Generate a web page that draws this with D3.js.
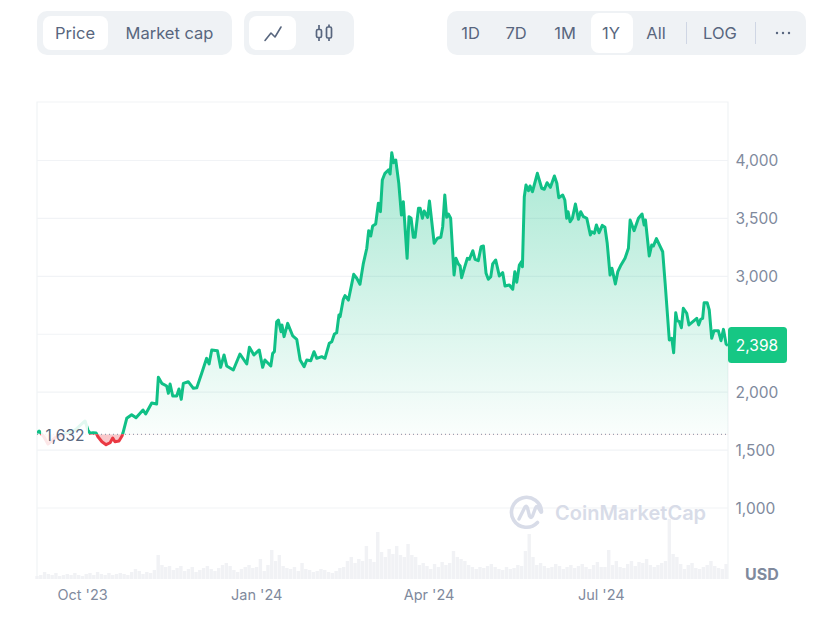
<!DOCTYPE html>
<html>
<head>
<meta charset="utf-8">
<script src="https://cdn.jsdelivr.net/npm/d3@7"></script>
<style>
html,body{margin:0;padding:0;background:#fff;}
svg{display:block;font-family:Inter,"Noto Sans",sans-serif;}
</style>
</head>
<body>
<svg id="c" width="825" height="627"></svg>
<script>
// Days since the start of the 1Y window
const priceDays = [0,1.1,3.7,5.8,9.5,14.8,20.1,25.4,26.9,28,29.6,31.2,32.2,34.3,36.5,38.6,40,41.2,43.3,44.9,45.4,47.4,50,52.3,56,57.4,60.6,63.2,64.1,65.9,68.5,69.4,70.3,71.7,73.8,75,76.2,77.3,79.9,82.6,84.4,87,89.6,90.9,92.3,95.3,97,98.8,100.2,103.7,107.2,110.8,112.2,114.6,117.4,119.2,120.4,123.5,124.5,125.4,126.6,127.5,128.9,129.4,130.5,132.4,135.1,137.2,139,141.1,142.5,144.6,146.3,147.8,150.4,152.1,154.4,155.7,157.1,158.3,159.5,160.1,161.8,162.7,164.5,167.3,168.9,170.6,172.4,174.2,175.2,176.3,177.3,178.9,180.3,181.4,182.4,183.8,185.6,186.5,187.4,188.4,189.5,191.1,192.5,193.5,195.5,196.5,197.6,198.8,199.7,201.5,202.4,203.6,204.5,206.3,207.3,209.8,211.5,213.3,214.3,215.4,216.4,217.3,218.5,220.3,221.3,222.6,223.5,224.3,225.7,227.3,228.4,230.2,231.4,233.1,234.6,235.8,237.2,238.4,239.7,240.7,242.3,244.2,246,247.2,249.5,251.3,252.4,253.4,254.8,255.9,256.4,257.4,258.3,259.6,260.4,261.7,264.3,266.6,268,269.4,271.2,273.3,274.6,275.6,277.7,278.8,279.8,280.5,281.6,282.8,284.4,286,287.2,288.6,290.4,292.3,293,294.4,295.5,296.9,298.6,300,301.2,302.7,303.7,305.5,306.8,308.5,310.6,312.4,313.3,315.4,317.7,319.6,320.7,321.4,323.4,324.7,325.6,327.2,330.5,331.8,334,335.3,336.3,337.4,338.2,339.3,340.4,341.4,343.2,344.4,348.5,349.5,350.6,351.6,352.4,354,355.1,356.4,357.6,359.9,361.3,362.6,364,365];
const priceValues = [1643,1660,1609,1548,1600,1635,1669,1747,1669,1641,1646,1643,1611,1568,1542,1559,1600,1568,1574,1617,1643,1770,1801,1775,1842,1807,1902,1894,2124,2072,2049,1986,2066,1963,1963,2023,1934,2072,2086,2029,2034,2159,2288,2239,2360,2354,2210,2317,2222,2187,2325,2239,2383,2317,2360,2210,2273,2222,2331,2345,2604,2619,2518,2576,2475,2590,2481,2452,2273,2216,2273,2267,2345,2288,2302,2288,2418,2431,2498,2509,2662,2647,2797,2829,2791,3013,2979,2927,3108,3238,3390,3344,3430,3447,3626,3554,3827,3885,3914,3879,4063,3977,4000,3799,3525,3640,3151,3511,3497,3333,3333,3583,3583,3497,3560,3505,3646,3281,3324,3333,3424,3698,3505,3534,3497,3007,3151,3102,3085,2984,3065,3151,3143,3217,3143,3131,3252,3258,3022,2970,2993,3102,3137,2999,3027,2912,2921,2884,3036,2944,3094,3122,3079,3683,3784,3735,3776,3726,3885,3756,3747,3804,3764,3862,3799,3675,3698,3655,3497,3554,3467,3497,3620,3488,3554,3511,3497,3353,3381,3367,3439,3372,3436,3419,3281,3007,3065,2930,3036,3094,3151,3238,3482,3390,3497,3534,3439,3482,3171,3266,3258,3321,3208,2936,2446,2461,2336,2682,2613,2604,2552,2720,2677,2576,2633,2576,2625,2633,2768,2768,2705,2461,2526,2526,2440,2538,2411,2398];
// Volume, one reading every second day (USD bn, read by eye)
const volumeValues = [3,4,7,5,4,6,3,4,5,4,6,4,3,5,6,4,7,5,4,6,4,5,6,5,4,7,10,8,5,7,6,9,24,14,12,13,9,11,13,8,10,12,7,9,11,13,10,8,11,14,16,13,9,7,10,12,14,11,12,20,8,14,29,18,24,13,11,10,12,8,16,10,9,7,8,10,9,7,6,8,11,12,18,22,16,20,18,33,20,17,47,27,22,30,25,33,24,22,35,24,22,14,16,13,10,15,12,17,14,16,28,22,20,18,14,12,10,12,11,13,15,12,10,9,12,10,11,14,13,28,45,22,14,16,13,11,12,15,13,10,12,14,11,13,15,12,10,14,17,12,12,29,14,18,12,11,15,18,13,17,16,20,14,12,14,16,18,60,25,22,15,10,14,16,11,10,12,14,18,13,11,10,15];
const volumeStep = 2;
const baselinePrice = 1632;
const lastPrice = 2398;
const priceTicks = [1000,1500,2000,2500,3000,3500,4000];
const hiddenTick = 2500; // covered by the last-price tag in the reference
const dateTicks = [23.8,115.8,206.8,297.8];
const dateLabels = ["Oct '23","Jan '24","Apr '24","Jul '24"];
const metricTabs = ["Price","Market cap"];
const rangeTabs = ["1D","7D","1M","1Y","All","LOG"];

const GREEN="#10c086", TAG="#16c784", RED="#ea3943", GREY="#808a9d", DARK="#58667e", GRID="#f1f3f6", PANEL="#eff2f5";
const L=37,R=728,T=102,B=579;
const svg=d3.select("#c");
const x=d3.scaleLinear().domain([0,365]).range([L,R]);
const y=d3.scaleLinear().domain([4000,1000]).range([160,507.5]);
const yVol=d3.scaleLinear().domain([0,60]).range([B,B-60]);
const pts=priceDays.map((d,i)=>({d,v:priceValues[i]}));
const by=y(baselinePrice);

const defs=svg.append("defs");
const gg=defs.append("linearGradient").attr("id","gg").attr("gradientUnits","userSpaceOnUse")
  .attr("x1",0).attr("x2",0).attr("y1",y(4063)).attr("y2",by);
gg.append("stop").attr("offset",0).attr("stop-color",GREEN).attr("stop-opacity",.36);
gg.append("stop").attr("offset",1).attr("stop-color",GREEN).attr("stop-opacity",.02);
defs.append("clipPath").attr("id","above").append("rect").attr("x",L).attr("y",T).attr("width",R-L).attr("height",by-T);
defs.append("clipPath").attr("id","below").append("rect").attr("x",L).attr("y",by).attr("width",R-L).attr("height",B-by);

// Control panels
function panel(x0,x1){svg.append("rect").attr("x",x0).attr("y",11).attr("width",x1-x0).attr("height",44).attr("rx",10).attr("fill",PANEL);}
function pill(x0,x1){svg.append("rect").attr("x",x0).attr("y",16).attr("width",x1-x0).attr("height",34).attr("rx",8).attr("fill","#fff");}
function tab(t,cx,fill){svg.append("text").attr("x",cx).attr("y",38.5).attr("text-anchor","middle").attr("font-size",16.5).attr("font-weight",400).attr("fill",fill||DARK).text(t);}
panel(37,232);pill(43,108);tab(metricTabs[0],75);tab(metricTabs[1],169.5);
panel(244,354);pill(249,296);
svg.append("path").attr("d","M265 40.5L271 33L275 37L281 27").attr("fill","none").attr("stroke",DARK).attr("stroke-width",1.6).attr("stroke-linejoin","round").attr("stroke-linecap","round");
const ic=svg.append("g").attr("fill","none").attr("stroke",DARK).attr("stroke-width",1.7);
ic.append("rect").attr("x",316.5).attr("y",29.5).attr("width",5).attr("height",8).attr("rx",1.5);
ic.append("rect").attr("x",326.5).attr("y",27).attr("width",5).attr("height",11).attr("rx",1.5);
ic.append("path").attr("d","M319 25V29.5M319 37.5V41M329 24.5V27M329 38V41");
panel(447,806);
svg.append("rect").attr("x",591).attr("y",13).attr("width",42).attr("height",40).attr("rx",8).attr("fill","#fff");
[470.5,516,565,611,656,720].forEach((cx,i)=>tab(rangeTabs[i],cx));
svg.append("path").attr("d","M686.5 22V44M755.5 22V44").attr("stroke","#cfd6e4").attr("stroke-width",1);
[777,783,789].forEach(cx=>svg.append("circle").attr("cx",cx).attr("cy",33).attr("r",1.2).attr("fill",DARK));

// Frame + grid
svg.append("path").attr("d",`M${L} ${B}V${T}H${R}V${B}`).attr("fill","none").attr("stroke",GRID).attr("stroke-width",1.2);
const yAxis=d3.axisRight(y).tickValues(priceTicks).tickFormat(d=>d===hiddenTick?"":d3.format(",")(d)).tickSize(-(R-L)).tickPadding(8);
const ya=svg.append("g").attr("transform",`translate(${R},0)`).call(yAxis);
ya.select(".domain").remove();
ya.selectAll("line").attr("stroke",GRID).attr("stroke-width",1.2);
ya.selectAll("text").attr("fill",GREY).attr("font-size",15.5).attr("font-family","Inter").attr("x",7.5).attr("y",0.8);

// Volume
svg.append("g").selectAll("rect").data(volumeValues).join("rect")
  .attr("x",(d,i)=>x(i*volumeStep)-1.7).attr("width",3.4)
  .attr("y",d=>yVol(d)).attr("height",d=>B-yVol(d)).attr("fill","#f1f2f5");

// Watermark
const wm=svg.append("g").attr("fill","none").attr("stroke","#d8dce8");
wm.append("path").attr("stroke-width",3.6).attr("stroke-linecap","round").attr("d","M537.5 522.5A15 15 0 1 1 541.5 512");
wm.append("path").attr("stroke-width",3.4).attr("stroke-linejoin","round").attr("stroke-linecap","round").attr("d","M519 519L525 507Q526.5 505 527.5 508L529.5 516Q531 519 532.5 516L535.5 508Q537 505 538.5 508L541 512");
svg.append("text").attr("x",555).attr("y",520).attr("font-size",20).attr("font-weight",600).attr("fill","#d8dce8").text("CoinMarketCap");

// Price area and line
const area=d3.area().x(d=>x(d.d)).y0(by).y1(d=>y(d.v));
const line=d3.line().x(d=>x(d.d)).y(d=>y(d.v));
svg.append("path").datum(pts).attr("d",area).attr("fill","url(#gg)").attr("clip-path","url(#above)");
svg.append("path").datum(pts).attr("d",area).attr("fill",RED).attr("fill-opacity",.28).attr("clip-path","url(#below)");
svg.append("path").attr("d",`M${x(0)} ${by}H${R}`).attr("stroke","#9aa1b1").attr("stroke-width",1.2).attr("stroke-dasharray","1 3");
svg.append("path").datum(pts).attr("d",line).attr("fill","none").attr("stroke",GREEN).attr("stroke-width",3).attr("stroke-linejoin","round").attr("clip-path","url(#above)");
svg.append("path").datum(pts).attr("d",line).attr("fill","none").attr("stroke",RED).attr("stroke-width",3).attr("stroke-linejoin","round").attr("clip-path","url(#below)");

// Baseline label
svg.append("rect").attr("x",41).attr("y",by-16).attr("width",47).attr("height",28).attr("rx",3).attr("fill","#fff").attr("fill-opacity",.88);
svg.append("text").attr("x",65).attr("y",by+6.5).attr("text-anchor","middle").attr("font-size",15.5).attr("fill",DARK).text(d3.format(",")(baselinePrice));

// Last price tag
svg.append("rect").attr("x",R).attr("y",y(lastPrice)-18.5).attr("width",59).attr("height",36).attr("rx",3.5).attr("fill",TAG);
svg.append("text").attr("x",R+29).attr("y",y(lastPrice)+5).attr("text-anchor","middle").attr("font-size",15.5).attr("fill","#fff").text(d3.format(",")(lastPrice));

// Axis bottom
const xAxis=d3.axisBottom(x).tickValues(dateTicks).tickFormat((d,i)=>dateLabels[i]).tickSize(0).tickPadding(0);
const xa=svg.append("g").attr("transform","translate(0,590)").call(xAxis);
xa.select(".domain").remove();
xa.selectAll("text").attr("fill",GREY).attr("font-size",14.5).attr("font-family","Inter").attr("dy","0.71em").attr("y",0);
svg.append("text").attr("x",745).attr("y",579.5).attr("font-size",16).attr("font-weight",700).attr("fill",GREY).text("USD");
</script>
</body>
</html>
